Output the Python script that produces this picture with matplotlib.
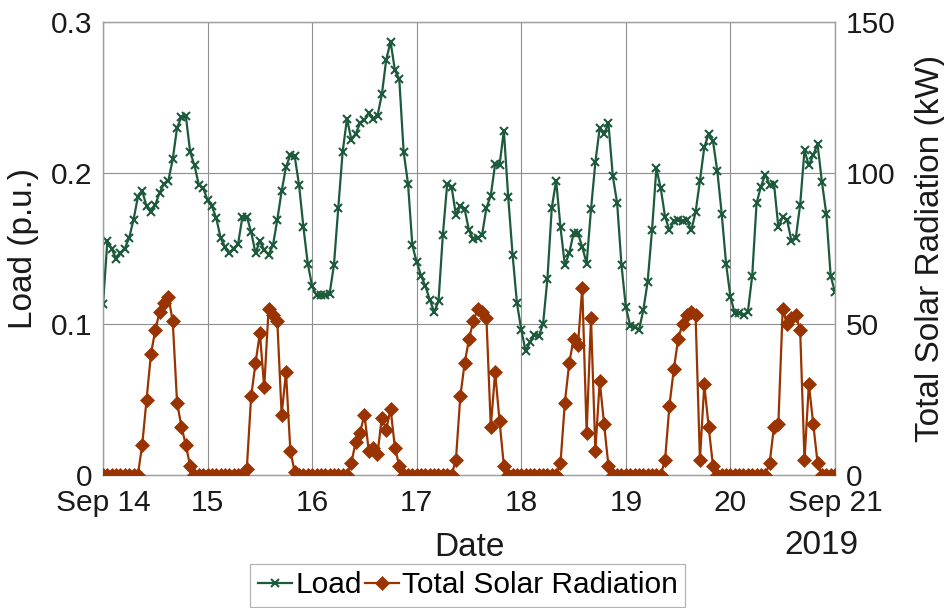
import numpy as np
import pandas as pd
import matplotlib
matplotlib.use("Agg")
import matplotlib.pyplot as plt

plt.rcParams['font.family'] = ['Liberation Sans', 'DejaVu Sans']

# Hourly samples, 2019-09-14 00:00 .. 2019-09-21 00:00
load_pu = [
    # Sep 14
    0.113, 0.155, 0.150, 0.143, 0.147, 0.150, 0.157, 0.169, 0.184, 0.188, 0.178, 0.174,
    0.179, 0.187, 0.193, 0.195, 0.209, 0.230, 0.237, 0.238, 0.214, 0.205, 0.192, 0.190,
    # Sep 15
    0.182, 0.178, 0.170, 0.157, 0.151, 0.147, 0.150, 0.153, 0.171, 0.171, 0.161, 0.147,
    0.155, 0.149, 0.146, 0.152, 0.169, 0.188, 0.204, 0.212, 0.211, 0.192, 0.164, 0.140,
    # Sep 16
    0.125, 0.119, 0.119, 0.119, 0.120, 0.139, 0.177, 0.214, 0.236, 0.222, 0.226, 0.233,
    0.235, 0.240, 0.236, 0.238, 0.252, 0.275, 0.287, 0.268, 0.262, 0.214, 0.193, 0.152,
    # Sep 17
    0.141, 0.132, 0.125, 0.116, 0.108, 0.115, 0.159, 0.193, 0.191, 0.172, 0.178, 0.176,
    0.162, 0.156, 0.157, 0.159, 0.177, 0.185, 0.206, 0.205, 0.228, 0.184, 0.146, 0.114,
    # Sep 18
    0.096, 0.082, 0.088, 0.093, 0.092, 0.100, 0.130, 0.177, 0.195, 0.164, 0.139, 0.147,
    0.160, 0.160, 0.151, 0.140, 0.176, 0.207, 0.230, 0.226, 0.233, 0.198, 0.180, 0.139,
    # Sep 19
    0.111, 0.099, 0.098, 0.096, 0.109, 0.128, 0.162, 0.203, 0.190, 0.171, 0.162, 0.168,
    0.169, 0.168, 0.169, 0.162, 0.174, 0.195, 0.217, 0.226, 0.221, 0.201, 0.173, 0.140,
    # Sep 20
    0.118, 0.107, 0.107, 0.106, 0.108, 0.132, 0.180, 0.191, 0.199, 0.192, 0.193, 0.164,
    0.171, 0.169, 0.155, 0.157, 0.179, 0.215, 0.205, 0.212, 0.219, 0.194, 0.173, 0.132,
    # Sep 21
    0.121,
]

solar_kw = [
    # Sep 14
    0, 0, 0, 0, 0, 0, 0, 0, 0, 10, 25, 40, 48, 54, 57, 59, 51, 24, 16, 10, 3, 0, 0, 0,
    # Sep 15
    0, 0, 0, 0, 0, 0, 0, 0, 0, 2, 26, 37, 47, 29, 55, 53, 51, 20, 34, 8, 1, 0, 0, 0,
    # Sep 16
    0, 0, 0, 0, 0, 0, 0, 0, 0, 4, 11, 14, 20, 8, 9, 7, 19, 15, 22, 9, 3, 0, 0, 0,
    # Sep 17
    0, 0, 0, 0, 0, 0, 0, 0, 0, 5, 26, 37, 45, 51, 55, 54, 52, 16, 34, 18, 3, 0, 0, 0,
    # Sep 18
    0, 0, 0, 0, 0, 0, 0, 0, 0, 4, 24, 37, 45, 43, 62, 14, 52, 8, 31, 17, 3, 0, 0, 0,
    # Sep 19
    0, 0, 0, 0, 0, 0, 0, 0, 0, 5, 23, 35, 45, 50, 53, 54, 53, 5, 30, 16, 3, 0, 0, 0,
    # Sep 20
    0, 0, 0, 0, 0, 0, 0, 0, 0, 4, 16, 17, 55, 50, 52, 53, 48, 5, 30, 17, 4, 0, 0, 0,
    # Sep 21
    0,
]

times = pd.date_range("2019-09-14", periods=len(load_pu), freq="h")
day_ticks = pd.date_range("2019-09-14", "2019-09-21", freq="D")
day_labels = ["Sep 14", "15", "16", "17", "18", "19", "20", "Sep 21"]

load_ticks = [0, 0.1, 0.2, 0.3]
load_tick_labels = ["0", "0.1", "0.2", "0.3"]
solar_ticks = [0, 50, 100, 150]

green = "#1d5a3c"
brown = "#993300"
text_col = "#1a1a1a"
grid_col = "#8f8f8f"

fig = plt.figure(figsize=(9.45, 6.08), dpi=100)
ax = fig.add_axes([103 / 945, 1 - 475 / 608, (835 - 103) / 945, (475 - 22) / 608])
ax2 = ax.twinx()

l1, = ax.plot(times, load_pu, color=green, lw=1.6, marker="x", ms=6, mew=1.5,
              label="Load", zorder=3)
l2, = ax2.plot(times, solar_kw, color=brown, lw=1.6, marker="D", ms=7.5, mew=0.5,
               label="Total Solar Radiation", zorder=3)

ax.set_xlim(times[0], times[-1])
ax.set_ylim(0, 0.3)
ax2.set_ylim(0, 150)

ax.set_xticks(day_ticks)
ax.set_xticklabels(day_labels)
ax.set_yticks(load_ticks)
ax.set_yticklabels(load_tick_labels)
ax2.set_yticks(solar_ticks)

ax.grid(True, color=grid_col, lw=0.8)
ax.set_axisbelow(True)

for a in (ax, ax2):
    a.tick_params(axis="both", length=0, labelsize=21.5, colors=text_col, pad=8)
    for s in a.spines.values():
        s.set_color("#a0a0a0")
        s.set_linewidth(0.9)
ax.tick_params(axis="x", pad=10)

ax.set_xlabel("Date", fontsize=24, color=text_col, labelpad=11)
ax.set_ylabel("Load (p.u.)", fontsize=24, color=text_col, labelpad=8)
ax2.set_ylabel("Total Solar Radiation (kW)", fontsize=24, color=text_col, labelpad=14)

ax.annotate("2019", xy=(1.0, 0.0), xycoords="axes fraction",
            xytext=(-14, -70), textcoords="offset pixels",
            ha="center", va="center", fontsize=24, color=text_col)

leg = fig.legend(handles=[l1, l2], loc="upper center", bbox_to_anchor=(0.495, 1 - 564 / 608),
                 ncol=2, fontsize=21.5, frameon=True, fancybox=False, edgecolor="#a0a0a0",
                 handlelength=1.15, handletextpad=0.1, columnspacing=0.1, borderpad=0.25,
                 borderaxespad=0)
leg.get_frame().set_linewidth(0.9)

fig.savefig("out.png", dpi=100)
